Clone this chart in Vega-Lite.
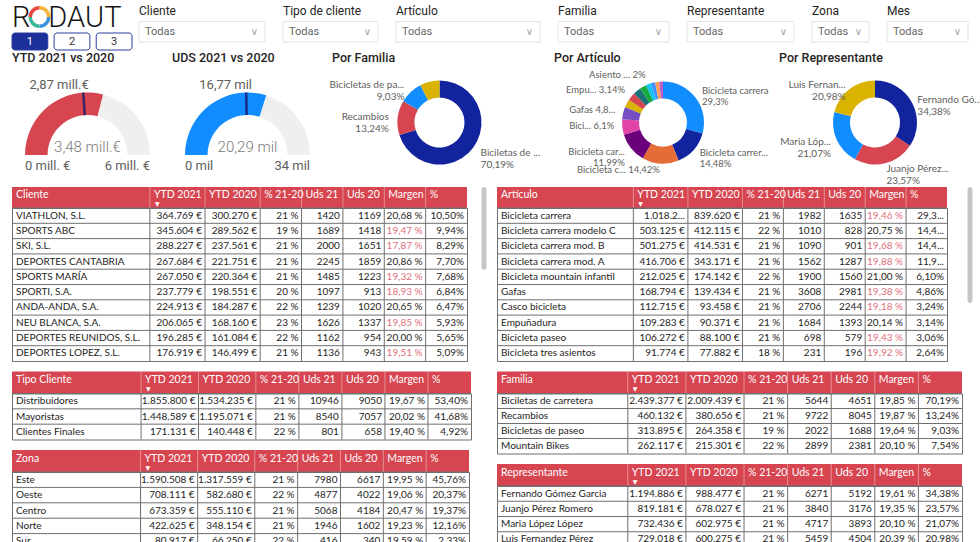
{
"$schema": "https://vega.github.io/schema/vega-lite/v6.json",
"background": "#ffffff",
"padding": {"left": 11, "top": 1, "right": 0, "bottom": 0},
"config": {
  "view": {"stroke": null},
  "locale": {"number": {"decimal": ",", "thousands": ".", "grouping": [3], "currency": ["", " €"], "percent": " %"}},
  "text": {"font": "Lato", "fontSize": 10, "color": "#252423"},
  "title": {"font": "Roboto", "fontSize": 12.5, "fontWeight": 500, "color": "#252423", "anchor": "start", "baseline": "bottom", "offset": 1, "frame": "group"}
},
"datasets": {
  "cols": [{"k":"s_y1","t":"YTD 2021"},{"k":"s_y2","t":"YTD 2020"},{"k":"s_v","t":"% 21-20"},{"k":"s_u1","t":"Uds 21"},{"k":"s_u2","t":"Uds 20"},{"k":"s_m","t":"Margen"},{"k":"s_p","t":"%"}],
  "cliente": [
    {"cliente":"VIATHLON, S.L.","ytd21":364769,"ytd20":300270,"var":0.21,"uds21":1420,"uds20":1169,"margen":0.2068,"pct":10.50},
    {"cliente":"SPORTS ABC","ytd21":345604,"ytd20":289562,"var":0.19,"uds21":1689,"uds20":1418,"margen":0.1947,"pct":9.94},
    {"cliente":"SKI, S.L.","ytd21":288227,"ytd20":237561,"var":0.21,"uds21":2000,"uds20":1651,"margen":0.1787,"pct":8.29},
    {"cliente":"DEPORTES CANTABRIA","ytd21":267684,"ytd20":221751,"var":0.21,"uds21":2245,"uds20":1859,"margen":0.2086,"pct":7.70},
    {"cliente":"SPORTS MARÍA","ytd21":267050,"ytd20":220364,"var":0.21,"uds21":1485,"uds20":1223,"margen":0.1932,"pct":7.68},
    {"cliente":"SPORTI, S.A.","ytd21":237779,"ytd20":198551,"var":0.20,"uds21":1097,"uds20":913,"margen":0.1893,"pct":6.84},
    {"cliente":"ANDA-ANDA, S.A.","ytd21":224913,"ytd20":184287,"var":0.22,"uds21":1239,"uds20":1020,"margen":0.2065,"pct":6.47},
    {"cliente":"NEU BLANCA, S.A.","ytd21":206065,"ytd20":168160,"var":0.23,"uds21":1626,"uds20":1337,"margen":0.1985,"pct":5.93},
    {"cliente":"DEPORTES REUNIDOS, S.L.","ytd21":196285,"ytd20":161084,"var":0.22,"uds21":1162,"uds20":954,"margen":0.2000,"pct":5.65},
    {"cliente":"DEPORTES LOPEZ, S.L.","ytd21":176919,"ytd20":146499,"var":0.21,"uds21":1136,"uds20":943,"margen":0.1951,"pct":5.09}
  ],
  "articulo": [
    {"articulo":"Bicicleta carrera","ytd21":1018271,"ytd20":839620,"var":0.21,"uds21":1982,"uds20":1635,"margen":0.1946,"pct":29.30},
    {"articulo":"Bicicleta carrera modelo C","ytd21":503125,"ytd20":412115,"var":0.22,"uds21":1010,"uds20":828,"margen":0.2075,"pct":14.48},
    {"articulo":"Bicicleta carrera mod. B","ytd21":501275,"ytd20":414531,"var":0.21,"uds21":1090,"uds20":901,"margen":0.1968,"pct":14.42},
    {"articulo":"Bicicleta carrera mod. A","ytd21":416706,"ytd20":343171,"var":0.21,"uds21":1562,"uds20":1287,"margen":0.1988,"pct":11.99},
    {"articulo":"Bicicleta mountain infantil","ytd21":212025,"ytd20":174142,"var":0.22,"uds21":1900,"uds20":1560,"margen":0.2100,"pct":6.10},
    {"articulo":"Gafas","ytd21":168794,"ytd20":139434,"var":0.21,"uds21":3608,"uds20":2981,"margen":0.1938,"pct":4.86},
    {"articulo":"Casco bicicleta","ytd21":112715,"ytd20":93458,"var":0.21,"uds21":2706,"uds20":2244,"margen":0.1918,"pct":3.24},
    {"articulo":"Empuñadura","ytd21":109283,"ytd20":90371,"var":0.21,"uds21":1684,"uds20":1393,"margen":0.2014,"pct":3.14},
    {"articulo":"Bicicleta paseo","ytd21":106272,"ytd20":88100,"var":0.21,"uds21":698,"uds20":579,"margen":0.1943,"pct":3.06},
    {"articulo":"Bicicleta tres asientos","ytd21":91774,"ytd20":77882,"var":0.18,"uds21":231,"uds20":196,"margen":0.1992,"pct":2.64}
  ],
  "art_donut": [
    {"articulo":"Bicicleta carrera","pct":29.30,"etiqueta":"Bicicleta carrera\n29,3%"},
    {"articulo":"Bicicleta carrera modelo C","pct":14.48,"etiqueta":"Bicicleta carrer...\n14,48%"},
    {"articulo":"Bicicleta carrera mod. B","pct":14.42,"etiqueta":"Bicicleta c... 14,42%"},
    {"articulo":"Bicicleta carrera mod. A","pct":11.99,"etiqueta":"Bicicleta car...\n11,99%"},
    {"articulo":"Bicicleta mountain infantil","pct":6.10,"etiqueta":"Bici... 6,1%"},
    {"articulo":"Gafas","pct":4.86,"etiqueta":"Gafas 4,8..."},
    {"articulo":"Casco bicicleta","pct":3.24,"etiqueta":""},
    {"articulo":"Empuñadura","pct":3.14,"etiqueta":"Empu... 3,14%"},
    {"articulo":"Bicicleta paseo","pct":3.06,"etiqueta":""},
    {"articulo":"Bicicleta tres asientos","pct":2.64,"etiqueta":""},
    {"articulo":"Asiento bicicleta","pct":2.00,"etiqueta":"Asiento ... 2%"},
    {"articulo":"Bicicleta paseo mod. B","pct":1.67,"etiqueta":""},
    {"articulo":"Bicicleta paseo mod. C","pct":1.66,"etiqueta":""},
    {"articulo":"Mountain bike adulto","pct":1.44,"etiqueta":""}
  ],
  "tipo": [
    {"tipo":"Distribuidores","ytd21":1855800,"ytd20":1534235,"var":0.21,"uds21":10946,"uds20":9050,"margen":0.1967,"pct":53.40},
    {"tipo":"Mayoristas","ytd21":1448589,"ytd20":1195071,"var":0.21,"uds21":8540,"uds20":7057,"margen":0.2002,"pct":41.68},
    {"tipo":"Clientes Finales","ytd21":171131,"ytd20":140448,"var":0.22,"uds21":801,"uds20":658,"margen":0.1940,"pct":4.92}
  ],
  "zona": [
    {"zona":"Este","ytd21":1590508,"ytd20":1317559,"var":0.21,"uds21":7980,"uds20":6617,"margen":0.1995,"pct":45.76},
    {"zona":"Oeste","ytd21":708111,"ytd20":582680,"var":0.22,"uds21":4877,"uds20":4022,"margen":0.1906,"pct":20.37},
    {"zona":"Centro","ytd21":673359,"ytd20":555110,"var":0.21,"uds21":5068,"uds20":4184,"margen":0.2047,"pct":19.37},
    {"zona":"Norte","ytd21":422625,"ytd20":348154,"var":0.21,"uds21":1946,"uds20":1602,"margen":0.1923,"pct":12.16},
    {"zona":"Sur","ytd21":80917,"ytd20":66250,"var":0.22,"uds21":416,"uds20":340,"margen":0.1959,"pct":2.33}
  ],
  "familia": [
    {"familia":"Biciletas de carretera","ytd21":2439377,"ytd20":2009439,"var":0.21,"uds21":5644,"uds20":4651,"margen":0.1985,"pct":70.19,"etiqueta":"Biciletas de ...\n70,19%"},
    {"familia":"Recambios","ytd21":460132,"ytd20":380656,"var":0.21,"uds21":9722,"uds20":8045,"margen":0.1987,"pct":13.24,"etiqueta":"Recambios\n13,24%"},
    {"familia":"Bicicletas de paseo","ytd21":313895,"ytd20":264358,"var":0.19,"uds21":2022,"uds20":1688,"margen":0.1964,"pct":9.03,"etiqueta":"Bicicletas de pa...\n9,03%"},
    {"familia":"Mountain Bikes","ytd21":262117,"ytd20":215301,"var":0.22,"uds21":2899,"uds20":2381,"margen":0.2010,"pct":7.54,"etiqueta":""}
  ],
  "representante": [
    {"representante":"Fernando Gómez Garcia","ytd21":1194886,"ytd20":988477,"var":0.21,"uds21":6271,"uds20":5192,"margen":0.1961,"pct":34.38,"etiqueta":"Fernando Gó...\n34,38%"},
    {"representante":"Juanjo Pérez Romero","ytd21":819181,"ytd20":678027,"var":0.21,"uds21":3840,"uds20":3176,"margen":0.1935,"pct":23.57,"etiqueta":"Juanjo Pérez...\n23,57%"},
    {"representante":"Maria López López","ytd21":732436,"ytd20":602975,"var":0.21,"uds21":4717,"uds20":3893,"margen":0.2010,"pct":21.07,"etiqueta":"Maria Lóp...\n21,07%"},
    {"representante":"Luis Fernandez Pérez","ytd21":729018,"ytd20":600275,"var":0.21,"uds21":5459,"uds20":4504,"margen":0.2039,"pct":20.98,"etiqueta":"Luis Fernan...\n20,98%"}
  ]
},
"spacing": -13,
"resolve": {"scale": {"color": "independent", "theta": "independent"}},
"vconcat": [
 {"spacing": 0, "resolve": {"scale": {"color": "independent", "theta": "independent"}}, "vconcat": [
  {"spacing": 5, "resolve": {"scale": {"color": "independent"}}, "hconcat": [
   {"spacing": 0, "bounds": "flush", "vconcat": [
    {"width": 110, "height": 32,
     "data": {"values": [{"letra":"R"},{"letra":"O"},{"letra":"D"},{"letra":"A"},{"letra":"U"},{"letra":"T"}]},
     "layer": [
      {"transform": [{"filter": "datum.letra != 'O'"}],
       "mark": {"type": "text", "font": "Roboto", "fontSize": 29, "fontWeight": 300, "color": "#151515", "baseline": "middle", "dy": 1},
       "encoding": {"x": {"field": "letra", "type": "nominal", "sort": null, "scale": {"type": "band", "domain": ["R","O","D","A","U","T"], "paddingInner": 0, "paddingOuter": 0}, "axis": null}, "text": {"field": "letra"}}},
      {"data": {"values": [{"seg":"a","v":1},{"seg":"b","v":1},{"seg":"c","v":1},{"seg":"d","v":1}]},
       "mark": {"type": "arc", "outerRadius": 11, "innerRadius": 7.5},
       "encoding": {"x": {"datum": "O", "type": "nominal", "scale": {"type": "band", "domain": ["R","O","D","A","U","T"], "paddingInner": 0, "paddingOuter": 0}, "axis": null},
        "theta": {"field": "v", "type": "quantitative", "stack": true},
        "color": {"field": "seg", "type": "nominal", "legend": null, "scale": {"domain": ["a","b","c","d"], "range": ["#F4B63A","#3F95DD","#3DB59A","#E8493C"]}}}}
     ]},
    {"width": 120, "height": 17,
     "data": {"values": [{"boton":"1","activo":true},{"boton":"2","activo":false},{"boton":"3","activo":false}]},
     "encoding": {"x": {"field": "boton", "type": "nominal", "scale": {"type": "band", "paddingInner": 0.15, "paddingOuter": 0}, "axis": null}},
     "layer": [
      {"mark": {"type": "bar", "cornerRadius": 3, "stroke": "#2B3E9E", "strokeWidth": 1},
       "encoding": {"color": {"condition": {"test": "datum.activo", "value": "#1D2F9B"}, "value": "#ffffff"}}},
      {"mark": {"type": "text", "font": "Roboto", "fontSize": 11},
       "encoding": {"text": {"field": "boton"}, "color": {"condition": {"test": "datum.activo", "value": "#ffffff"}, "value": "#333333"}}}
     ]}
   ]},
   {"spacing": 18, "bounds": "flush", "hconcat": [
    {"width": 126, "height": 41, "data": {"values": [{"campo":"Cliente","valor":"Todas"}]},
     "layer": [
      {"mark": {"type": "bar", "fill": "#ffffff", "stroke": "#E3E3E3"}, "encoding": {"y": {"datum": "caja", "type": "nominal", "scale": {"type": "band", "domain": ["titulo","caja"], "paddingInner": 0, "paddingOuter": 0}, "axis": null}}},
      {"mark": {"type": "text", "align": "left", "font": "Roboto", "fontSize": 12, "color": "#252423"}, "encoding": {"y": {"datum": "titulo", "type": "nominal", "scale": {"type": "band", "domain": ["titulo","caja"], "paddingInner": 0, "paddingOuter": 0}, "axis": null}, "x": {"datum": "izq", "type": "nominal", "bandPosition": 0, "scale": {"type": "band", "domain": ["izq","der"], "paddingInner": 0, "paddingOuter": 0}, "axis": null}, "text": {"field": "campo"}}},
      {"mark": {"type": "text", "align": "left", "dx": 6, "font": "Roboto", "fontSize": 11, "color": "#666666"}, "encoding": {"y": {"datum": "caja", "type": "nominal", "scale": {"type": "band", "domain": ["titulo","caja"], "paddingInner": 0, "paddingOuter": 0}, "axis": null}, "x": {"datum": "izq", "type": "nominal", "bandPosition": 0, "scale": {"type": "band", "domain": ["izq","der"], "paddingInner": 0, "paddingOuter": 0}, "axis": null}, "text": {"field": "valor"}}},
      {"mark": {"type": "text", "align": "right", "dx": -7, "font": "DejaVu Sans", "fontSize": 10, "color": "#A0A0A0", "text": "∨"}, "encoding": {"y": {"datum": "caja", "type": "nominal", "scale": {"type": "band", "domain": ["titulo","caja"], "paddingInner": 0, "paddingOuter": 0}, "axis": null}, "x": {"datum": "der", "type": "nominal", "bandPosition": 1, "scale": {"type": "band", "domain": ["izq","der"], "paddingInner": 0, "paddingOuter": 0}, "axis": null}}}
     ]},
    {"width": 95, "height": 41, "data": {"values": [{"campo":"Tipo de cliente","valor":"Todas"}]},
     "layer": [
      {"mark": {"type": "bar", "fill": "#ffffff", "stroke": "#E3E3E3"}, "encoding": {"y": {"datum": "caja", "type": "nominal", "scale": {"type": "band", "domain": ["titulo","caja"], "paddingInner": 0, "paddingOuter": 0}, "axis": null}}},
      {"mark": {"type": "text", "align": "left", "font": "Roboto", "fontSize": 12, "color": "#252423"}, "encoding": {"y": {"datum": "titulo", "type": "nominal", "scale": {"type": "band", "domain": ["titulo","caja"], "paddingInner": 0, "paddingOuter": 0}, "axis": null}, "x": {"datum": "izq", "type": "nominal", "bandPosition": 0, "scale": {"type": "band", "domain": ["izq","der"], "paddingInner": 0, "paddingOuter": 0}, "axis": null}, "text": {"field": "campo"}}},
      {"mark": {"type": "text", "align": "left", "dx": 6, "font": "Roboto", "fontSize": 11, "color": "#666666"}, "encoding": {"y": {"datum": "caja", "type": "nominal", "scale": {"type": "band", "domain": ["titulo","caja"], "paddingInner": 0, "paddingOuter": 0}, "axis": null}, "x": {"datum": "izq", "type": "nominal", "bandPosition": 0, "scale": {"type": "band", "domain": ["izq","der"], "paddingInner": 0, "paddingOuter": 0}, "axis": null}, "text": {"field": "valor"}}},
      {"mark": {"type": "text", "align": "right", "dx": -7, "font": "DejaVu Sans", "fontSize": 10, "color": "#A0A0A0", "text": "∨"}, "encoding": {"y": {"datum": "caja", "type": "nominal", "scale": {"type": "band", "domain": ["titulo","caja"], "paddingInner": 0, "paddingOuter": 0}, "axis": null}, "x": {"datum": "der", "type": "nominal", "bandPosition": 1, "scale": {"type": "band", "domain": ["izq","der"], "paddingInner": 0, "paddingOuter": 0}, "axis": null}}}
     ]},
    {"width": 144, "height": 41, "data": {"values": [{"campo":"Artículo","valor":"Todas"}]},
     "layer": [
      {"mark": {"type": "bar", "fill": "#ffffff", "stroke": "#E3E3E3"}, "encoding": {"y": {"datum": "caja", "type": "nominal", "scale": {"type": "band", "domain": ["titulo","caja"], "paddingInner": 0, "paddingOuter": 0}, "axis": null}}},
      {"mark": {"type": "text", "align": "left", "font": "Roboto", "fontSize": 12, "color": "#252423"}, "encoding": {"y": {"datum": "titulo", "type": "nominal", "scale": {"type": "band", "domain": ["titulo","caja"], "paddingInner": 0, "paddingOuter": 0}, "axis": null}, "x": {"datum": "izq", "type": "nominal", "bandPosition": 0, "scale": {"type": "band", "domain": ["izq","der"], "paddingInner": 0, "paddingOuter": 0}, "axis": null}, "text": {"field": "campo"}}},
      {"mark": {"type": "text", "align": "left", "dx": 6, "font": "Roboto", "fontSize": 11, "color": "#666666"}, "encoding": {"y": {"datum": "caja", "type": "nominal", "scale": {"type": "band", "domain": ["titulo","caja"], "paddingInner": 0, "paddingOuter": 0}, "axis": null}, "x": {"datum": "izq", "type": "nominal", "bandPosition": 0, "scale": {"type": "band", "domain": ["izq","der"], "paddingInner": 0, "paddingOuter": 0}, "axis": null}, "text": {"field": "valor"}}},
      {"mark": {"type": "text", "align": "right", "dx": -7, "font": "DejaVu Sans", "fontSize": 10, "color": "#A0A0A0", "text": "∨"}, "encoding": {"y": {"datum": "caja", "type": "nominal", "scale": {"type": "band", "domain": ["titulo","caja"], "paddingInner": 0, "paddingOuter": 0}, "axis": null}, "x": {"datum": "der", "type": "nominal", "bandPosition": 1, "scale": {"type": "band", "domain": ["izq","der"], "paddingInner": 0, "paddingOuter": 0}, "axis": null}}}
     ]},
    {"width": 111, "height": 41, "data": {"values": [{"campo":"Familia","valor":"Todas"}]},
     "layer": [
      {"mark": {"type": "bar", "fill": "#ffffff", "stroke": "#E3E3E3"}, "encoding": {"y": {"datum": "caja", "type": "nominal", "scale": {"type": "band", "domain": ["titulo","caja"], "paddingInner": 0, "paddingOuter": 0}, "axis": null}}},
      {"mark": {"type": "text", "align": "left", "font": "Roboto", "fontSize": 12, "color": "#252423"}, "encoding": {"y": {"datum": "titulo", "type": "nominal", "scale": {"type": "band", "domain": ["titulo","caja"], "paddingInner": 0, "paddingOuter": 0}, "axis": null}, "x": {"datum": "izq", "type": "nominal", "bandPosition": 0, "scale": {"type": "band", "domain": ["izq","der"], "paddingInner": 0, "paddingOuter": 0}, "axis": null}, "text": {"field": "campo"}}},
      {"mark": {"type": "text", "align": "left", "dx": 6, "font": "Roboto", "fontSize": 11, "color": "#666666"}, "encoding": {"y": {"datum": "caja", "type": "nominal", "scale": {"type": "band", "domain": ["titulo","caja"], "paddingInner": 0, "paddingOuter": 0}, "axis": null}, "x": {"datum": "izq", "type": "nominal", "bandPosition": 0, "scale": {"type": "band", "domain": ["izq","der"], "paddingInner": 0, "paddingOuter": 0}, "axis": null}, "text": {"field": "valor"}}},
      {"mark": {"type": "text", "align": "right", "dx": -7, "font": "DejaVu Sans", "fontSize": 10, "color": "#A0A0A0", "text": "∨"}, "encoding": {"y": {"datum": "caja", "type": "nominal", "scale": {"type": "band", "domain": ["titulo","caja"], "paddingInner": 0, "paddingOuter": 0}, "axis": null}, "x": {"datum": "der", "type": "nominal", "bandPosition": 1, "scale": {"type": "band", "domain": ["izq","der"], "paddingInner": 0, "paddingOuter": 0}, "axis": null}}}
     ]},
    {"width": 107, "height": 41, "data": {"values": [{"campo":"Representante","valor":"Todas"}]},
     "layer": [
      {"mark": {"type": "bar", "fill": "#ffffff", "stroke": "#E3E3E3"}, "encoding": {"y": {"datum": "caja", "type": "nominal", "scale": {"type": "band", "domain": ["titulo","caja"], "paddingInner": 0, "paddingOuter": 0}, "axis": null}}},
      {"mark": {"type": "text", "align": "left", "font": "Roboto", "fontSize": 12, "color": "#252423"}, "encoding": {"y": {"datum": "titulo", "type": "nominal", "scale": {"type": "band", "domain": ["titulo","caja"], "paddingInner": 0, "paddingOuter": 0}, "axis": null}, "x": {"datum": "izq", "type": "nominal", "bandPosition": 0, "scale": {"type": "band", "domain": ["izq","der"], "paddingInner": 0, "paddingOuter": 0}, "axis": null}, "text": {"field": "campo"}}},
      {"mark": {"type": "text", "align": "left", "dx": 6, "font": "Roboto", "fontSize": 11, "color": "#666666"}, "encoding": {"y": {"datum": "caja", "type": "nominal", "scale": {"type": "band", "domain": ["titulo","caja"], "paddingInner": 0, "paddingOuter": 0}, "axis": null}, "x": {"datum": "izq", "type": "nominal", "bandPosition": 0, "scale": {"type": "band", "domain": ["izq","der"], "paddingInner": 0, "paddingOuter": 0}, "axis": null}, "text": {"field": "valor"}}},
      {"mark": {"type": "text", "align": "right", "dx": -7, "font": "DejaVu Sans", "fontSize": 10, "color": "#A0A0A0", "text": "∨"}, "encoding": {"y": {"datum": "caja", "type": "nominal", "scale": {"type": "band", "domain": ["titulo","caja"], "paddingInner": 0, "paddingOuter": 0}, "axis": null}, "x": {"datum": "der", "type": "nominal", "bandPosition": 1, "scale": {"type": "band", "domain": ["izq","der"], "paddingInner": 0, "paddingOuter": 0}, "axis": null}}}
     ]},
    {"width": 57, "height": 41, "data": {"values": [{"campo":"Zona","valor":"Todas"}]},
     "layer": [
      {"mark": {"type": "bar", "fill": "#ffffff", "stroke": "#E3E3E3"}, "encoding": {"y": {"datum": "caja", "type": "nominal", "scale": {"type": "band", "domain": ["titulo","caja"], "paddingInner": 0, "paddingOuter": 0}, "axis": null}}},
      {"mark": {"type": "text", "align": "left", "font": "Roboto", "fontSize": 12, "color": "#252423"}, "encoding": {"y": {"datum": "titulo", "type": "nominal", "scale": {"type": "band", "domain": ["titulo","caja"], "paddingInner": 0, "paddingOuter": 0}, "axis": null}, "x": {"datum": "izq", "type": "nominal", "bandPosition": 0, "scale": {"type": "band", "domain": ["izq","der"], "paddingInner": 0, "paddingOuter": 0}, "axis": null}, "text": {"field": "campo"}}},
      {"mark": {"type": "text", "align": "left", "dx": 6, "font": "Roboto", "fontSize": 11, "color": "#666666"}, "encoding": {"y": {"datum": "caja", "type": "nominal", "scale": {"type": "band", "domain": ["titulo","caja"], "paddingInner": 0, "paddingOuter": 0}, "axis": null}, "x": {"datum": "izq", "type": "nominal", "bandPosition": 0, "scale": {"type": "band", "domain": ["izq","der"], "paddingInner": 0, "paddingOuter": 0}, "axis": null}, "text": {"field": "valor"}}},
      {"mark": {"type": "text", "align": "right", "dx": -7, "font": "DejaVu Sans", "fontSize": 10, "color": "#A0A0A0", "text": "∨"}, "encoding": {"y": {"datum": "caja", "type": "nominal", "scale": {"type": "band", "domain": ["titulo","caja"], "paddingInner": 0, "paddingOuter": 0}, "axis": null}, "x": {"datum": "der", "type": "nominal", "bandPosition": 1, "scale": {"type": "band", "domain": ["izq","der"], "paddingInner": 0, "paddingOuter": 0}, "axis": null}}}
     ]},
    {"width": 81, "height": 41, "data": {"values": [{"campo":"Mes","valor":"Todas"}]},
     "layer": [
      {"mark": {"type": "bar", "fill": "#ffffff", "stroke": "#E3E3E3"}, "encoding": {"y": {"datum": "caja", "type": "nominal", "scale": {"type": "band", "domain": ["titulo","caja"], "paddingInner": 0, "paddingOuter": 0}, "axis": null}}},
      {"mark": {"type": "text", "align": "left", "font": "Roboto", "fontSize": 12, "color": "#252423"}, "encoding": {"y": {"datum": "titulo", "type": "nominal", "scale": {"type": "band", "domain": ["titulo","caja"], "paddingInner": 0, "paddingOuter": 0}, "axis": null}, "x": {"datum": "izq", "type": "nominal", "bandPosition": 0, "scale": {"type": "band", "domain": ["izq","der"], "paddingInner": 0, "paddingOuter": 0}, "axis": null}, "text": {"field": "campo"}}},
      {"mark": {"type": "text", "align": "left", "dx": 6, "font": "Roboto", "fontSize": 11, "color": "#666666"}, "encoding": {"y": {"datum": "caja", "type": "nominal", "scale": {"type": "band", "domain": ["titulo","caja"], "paddingInner": 0, "paddingOuter": 0}, "axis": null}, "x": {"datum": "izq", "type": "nominal", "bandPosition": 0, "scale": {"type": "band", "domain": ["izq","der"], "paddingInner": 0, "paddingOuter": 0}, "axis": null}, "text": {"field": "valor"}}},
      {"mark": {"type": "text", "align": "right", "dx": -7, "font": "DejaVu Sans", "fontSize": 10, "color": "#A0A0A0", "text": "∨"}, "encoding": {"y": {"datum": "caja", "type": "nominal", "scale": {"type": "band", "domain": ["titulo","caja"], "paddingInner": 0, "paddingOuter": 0}, "axis": null}, "x": {"datum": "der", "type": "nominal", "bandPosition": 1, "scale": {"type": "band", "domain": ["izq","der"], "paddingInner": 0, "paddingOuter": 0}, "axis": null}}}
     ]}
   ]}
  ]},
  {"spacing": 0, "bounds": "flush", "resolve": {"scale": {"color": "independent", "theta": "independent"}}, "hconcat": [
   {"width": 151, "height": 90,
    "title": {"text": "YTD 2021 vs 2020"},
    "data": {"values": [{"kpi": "YTD", "min": 0, "max": 6, "valor": 3.48, "objetivo": 2.87}]},
    "encoding": {"y": {"value": "height"}},
    "layer": [
     {"mark": {"type": "arc", "outerRadius": 62.5, "innerRadius": 40, "color": "#EFEFEF"}, "encoding": {"theta": {"field": "min", "type": "quantitative", "stack": null, "scale": {"domain": [0, 6], "range": [-1.5708, 1.5708]}}, "theta2": {"field": "max"}}},
     {"mark": {"type": "arc", "outerRadius": 62.5, "innerRadius": 40, "color": "#D64550"}, "encoding": {"theta": {"field": "min", "type": "quantitative", "stack": null}, "theta2": {"field": "valor"}}},
     {"mark": {"type": "arc", "outerRadius": 62.5, "innerRadius": 40, "fill": "#3A2363", "stroke": "#3A2363", "strokeWidth": 2.5}, "encoding": {"theta": {"field": "objetivo", "type": "quantitative", "stack": null}, "theta2": {"field": "objetivo"}}},
     {"mark": {"type": "text", "radius": 70, "align": "right", "baseline": "middle", "dx": 6, "font": "Roboto", "fontSize": 13, "color": "#605E5C", "text": {"expr": "format(datum.objetivo, '.2f') + ' mill.€'"}}, "encoding": {"theta": {"field": "objetivo", "type": "quantitative"}}},
     {"mark": {"type": "text", "radius": 62.5, "align": "left", "baseline": "top", "dy": 5, "font": "Roboto", "fontSize": 13, "color": "#605E5C", "text": {"expr": "format(datum.min, 'd') + ' mill. €'"}}, "encoding": {"theta": {"field": "min", "type": "quantitative"}}},
     {"mark": {"type": "text", "radius": 62.5, "align": "right", "baseline": "top", "dy": 5, "font": "Roboto", "fontSize": 13, "color": "#605E5C", "text": {"expr": "format(datum.max, 'd') + ' mill. €'"}}, "encoding": {"theta": {"field": "max", "type": "quantitative"}}},
     {"mark": {"type": "text", "align": "center", "baseline": "alphabetic", "dy": -3, "font": "Roboto", "fontSize": 15, "fontWeight": 300, "color": "#7A7A7A", "text": {"expr": "format(datum.valor, '.2f') + ' mill.€'"}}, "encoding": {}}
    ]},
   {"width": 169, "height": 90,
    "title": {"text": "UDS 2021 vs 2020", "dx": 9},
    "data": {"values": [{"kpi": "UDS", "min": 0, "max": 34, "valor": 20.29, "objetivo": 16.77}]},
    "encoding": {"y": {"value": "height"}},
    "layer": [
     {"mark": {"type": "arc", "outerRadius": 62.5, "innerRadius": 40, "color": "#EFEFEF"}, "encoding": {"theta": {"field": "min", "type": "quantitative", "stack": null, "scale": {"domain": [0, 34], "range": [-1.5708, 1.5708]}}, "theta2": {"field": "max"}}},
     {"mark": {"type": "arc", "outerRadius": 62.5, "innerRadius": 40, "color": "#118DFF"}, "encoding": {"theta": {"field": "min", "type": "quantitative", "stack": null}, "theta2": {"field": "valor"}}},
     {"mark": {"type": "arc", "outerRadius": 62.5, "innerRadius": 40, "fill": "#1A2A8A", "stroke": "#1A2A8A", "strokeWidth": 2.5}, "encoding": {"theta": {"field": "objetivo", "type": "quantitative", "stack": null}, "theta2": {"field": "objetivo"}}},
     {"mark": {"type": "text", "radius": 70, "align": "right", "baseline": "middle", "dx": 6, "font": "Roboto", "fontSize": 13, "color": "#605E5C", "text": {"expr": "format(datum.objetivo, '.2f') + ' mil'"}}, "encoding": {"theta": {"field": "objetivo", "type": "quantitative"}}},
     {"mark": {"type": "text", "radius": 62.5, "align": "left", "baseline": "top", "dy": 5, "font": "Roboto", "fontSize": 13, "color": "#605E5C", "text": {"expr": "format(datum.min, 'd') + ' mil'"}}, "encoding": {"theta": {"field": "min", "type": "quantitative"}}},
     {"mark": {"type": "text", "radius": 62.5, "align": "right", "baseline": "top", "dy": 5, "font": "Roboto", "fontSize": 13, "color": "#605E5C", "text": {"expr": "format(datum.max, 'd') + ' mil'"}}, "encoding": {"theta": {"field": "max", "type": "quantitative"}}},
     {"mark": {"type": "text", "align": "center", "baseline": "alphabetic", "dy": -3, "font": "Roboto", "fontSize": 15, "fontWeight": 300, "color": "#7A7A7A", "text": {"expr": "format(datum.valor, '.2f') + ' mil'"}}, "encoding": {}}
    ]},
   {"width": 215, "height": 115,
    "title": {"text": "Por Familia"},
    "data": {"name": "familia"},
    "encoding": {"theta": {"field": "pct", "type": "quantitative", "stack": true}, "order": {"field": "pct", "sort": "descending"}},
    "layer": [
     {"mark": {"type": "arc", "outerRadius": 42, "innerRadius": 25}, "encoding": {"color": {"field": "familia", "type": "nominal", "legend": null, "scale": {"domain": ["Biciletas de carretera","Recambios","Bicicletas de paseo","Mountain Bikes"], "range": ["#12239E","#D64550","#118DFF","#D9B300"]}}}},
     {"mark": {"type": "text", "radius": 51, "baseline": "middle", "lineBreak": "\n", "color": "#605E5C", "fontSize": 10, "align": {"expr": "datum.pct_start + datum.pct_end < 100 ? 'left' : 'right'"}}, "encoding": {"text": {"field": "etiqueta"}}}
    ]},
   {"width": 232, "height": 115,
    "title": {"text": "Por Artículo", "dx": 7},
    "data": {"name": "art_donut"},
    "encoding": {"theta": {"field": "pct", "type": "quantitative", "stack": true}, "order": {"field": "pct", "sort": "descending"}},
    "layer": [
     {"mark": {"type": "arc", "outerRadius": 41, "innerRadius": 24}, "encoding": {"color": {"field": "articulo", "type": "nominal", "legend": null, "scale": {"domain": ["Bicicleta carrera","Bicicleta carrera modelo C","Bicicleta carrera mod. B","Bicicleta carrera mod. A","Bicicleta mountain infantil","Gafas","Casco bicicleta","Empuñadura","Bicicleta paseo","Bicicleta tres asientos","Asiento bicicleta","Bicicleta paseo mod. B","Bicicleta paseo mod. C","Mountain bike adulto"], "range": ["#118DFF","#12239E","#E66C37","#6B007B","#E044A7","#744EC2","#D9B300","#D64550","#197278","#1AAB40","#15C6F4","#4092FF","#FFA058","#BE5DC9"]}}}},
     {"mark": {"type": "text", "radius": 49, "dy": -1.5, "baseline": "middle", "lineBreak": "\n", "lineHeight": 11, "color": "#605E5C", "fontSize": 9.5, "align": {"expr": "datum.pct_start + datum.pct_end < 100 ? 'left' : 'right'"}}, "encoding": {"text": {"field": "etiqueta"}}}
    ]},
   {"width": 192, "height": 115,
    "title": {"text": "Por Representante"},
    "data": {"name": "representante"},
    "encoding": {"theta": {"field": "pct", "type": "quantitative", "stack": true}, "order": {"field": "pct", "sort": "descending"}},
    "layer": [
     {"mark": {"type": "arc", "outerRadius": 42, "innerRadius": 25}, "encoding": {"color": {"field": "representante", "type": "nominal", "legend": null, "scale": {"domain": ["Fernando Gómez Garcia","Juanjo Pérez Romero","Maria López López","Luis Fernandez Pérez"], "range": ["#12239E","#D64550","#118DFF","#D9B300"]}}}},
     {"mark": {"type": "text", "radius": 48, "baseline": "middle", "lineBreak": "\n", "color": "#605E5C", "fontSize": 10, "align": {"expr": "datum.pct_start + datum.pct_end < 100 ? 'left' : 'right'"}}, "encoding": {"text": {"field": "etiqueta"}}}
    ]}
  ]}
 ]},
 {"spacing": 0, "hconcat": [
  {"spacing": 8.5, "vconcat": [
   {"spacing": 0, "bounds": "flush", "vconcat": [
    {"width": 455, "height": 21, "view": {"fill": "#D64550", "stroke": null}, "data": {"name": "cols"},
     "layer": [
      {"mark": {"type": "rule", "color": "#ffffff", "strokeOpacity": 0.4}, "encoding": {"x": {"field": "k", "type": "nominal", "bandPosition": 0, "axis": null, "scale": {"type":"band","domain":["s_n","_1","_2","_3","_4","_5","_6","_7","_8","_9","s_y1","_a","_b","y1","s_y2","_c","_d","y2","s_v","_e","v","s_u1","_f","u1","s_u2","_g","u2","s_m","_h","m","s_p","_i","p"],"paddingInner":0,"paddingOuter":0}}}},
      {"mark": {"type": "text", "align": "left", "dx": 4, "dy": -2.5, "color": "#ffffff", "fontSize": 10.5}, "encoding": {"x": {"field": "k", "type": "nominal", "bandPosition": 0, "axis": null, "scale": {"type":"band","domain":["s_n","_1","_2","_3","_4","_5","_6","_7","_8","_9","s_y1","_a","_b","y1","s_y2","_c","_d","y2","s_v","_e","v","s_u1","_f","u1","s_u2","_g","u2","s_m","_h","m","s_p","_i","p"],"paddingInner":0,"paddingOuter":0}}, "text": {"field": "t"}}},
      {"data": {"values": [{"k": "s_n", "t": "Cliente"}]}, "mark": {"type": "text", "align": "left", "dx": 4, "dy": -2.5, "color": "#ffffff", "fontSize": 10.5}, "encoding": {"x": {"field": "k", "type": "nominal", "bandPosition": 0, "axis": null, "scale": {"type":"band","domain":["s_n","_1","_2","_3","_4","_5","_6","_7","_8","_9","s_y1","_a","_b","y1","s_y2","_c","_d","y2","s_v","_e","v","s_u1","_f","u1","s_u2","_g","u2","s_m","_h","m","s_p","_i","p"],"paddingInner":0,"paddingOuter":0}}, "text": {"field": "t"}}},
      {"data": {"values": [{"k": "s_y1", "t": "▼"}]}, "mark": {"type": "text", "align": "left", "dx": 5, "dy": 6.5, "color": "#ffffff", "fontSize": 6, "font": "DejaVu Sans"}, "encoding": {"x": {"field": "k", "type": "nominal", "bandPosition": 0, "axis": null, "scale": {"type":"band","domain":["s_n","_1","_2","_3","_4","_5","_6","_7","_8","_9","s_y1","_a","_b","y1","s_y2","_c","_d","y2","s_v","_e","v","s_u1","_f","u1","s_u2","_g","u2","s_m","_h","m","s_p","_i","p"],"paddingInner":0,"paddingOuter":0}}, "text": {"field": "t"}}}
     ]},
    {"width": 455, "height": 153, "view": {"stroke": "#6F6F6F"}, "data": {"name": "cliente"},
     "layer": [
      {"data": {"name": "cols"}, "mark": {"type": "rule", "color": "#6F6F6F"}, "encoding": {"x": {"field": "k", "type": "nominal", "bandPosition": 0, "axis": null, "scale": {"type":"band","domain":["s_n","_1","_2","_3","_4","_5","_6","_7","_8","_9","s_y1","_a","_b","y1","s_y2","_c","_d","y2","s_v","_e","v","s_u1","_f","u1","s_u2","_g","u2","s_m","_h","m","s_p","_i","p"],"paddingInner":0,"paddingOuter":0}}}},
      {"encoding": {"y": {"field": "cliente", "type": "nominal", "sort": null, "axis": null, "scale": {"type": "band", "paddingInner": 0, "paddingOuter": 0}}},
       "layer": [
        {"mark": {"type": "rule", "color": "#6F6F6F"}, "encoding": {"y": {"field": "cliente", "type": "nominal", "sort": null, "axis": null, "bandPosition": 0, "scale": {"type": "band", "paddingInner": 0, "paddingOuter": 0}}}},
        {"mark": {"type": "text", "align": "left", "dx": 4}, "encoding": {"x": {"datum": "s_n", "type": "nominal", "bandPosition": 0, "axis": null, "scale": {"type":"band","domain":["s_n","_1","_2","_3","_4","_5","_6","_7","_8","_9","s_y1","_a","_b","y1","s_y2","_c","_d","y2","s_v","_e","v","s_u1","_f","u1","s_u2","_g","u2","s_m","_h","m","s_p","_i","p"],"paddingInner":0,"paddingOuter":0}}, "text": {"field": "cliente"}}},
        {"mark": {"type": "text", "align": "right", "dx": -3}, "encoding": {"x": {"datum": "y1", "type": "nominal", "bandPosition": 1, "axis": null, "scale": {"type":"band","domain":["s_n","_1","_2","_3","_4","_5","_6","_7","_8","_9","s_y1","_a","_b","y1","s_y2","_c","_d","y2","s_v","_e","v","s_u1","_f","u1","s_u2","_g","u2","s_m","_h","m","s_p","_i","p"],"paddingInner":0,"paddingOuter":0}}, "text": {"field": "ytd21", "format": "$,.0f"}}},
        {"mark": {"type": "text", "align": "right", "dx": -3}, "encoding": {"x": {"datum": "y2", "type": "nominal", "bandPosition": 1, "axis": null, "scale": {"type":"band","domain":["s_n","_1","_2","_3","_4","_5","_6","_7","_8","_9","s_y1","_a","_b","y1","s_y2","_c","_d","y2","s_v","_e","v","s_u1","_f","u1","s_u2","_g","u2","s_m","_h","m","s_p","_i","p"],"paddingInner":0,"paddingOuter":0}}, "text": {"field": "ytd20", "format": "$,.0f"}}},
        {"mark": {"type": "text", "align": "right", "dx": -3}, "encoding": {"x": {"datum": "v", "type": "nominal", "bandPosition": 1, "axis": null, "scale": {"type":"band","domain":["s_n","_1","_2","_3","_4","_5","_6","_7","_8","_9","s_y1","_a","_b","y1","s_y2","_c","_d","y2","s_v","_e","v","s_u1","_f","u1","s_u2","_g","u2","s_m","_h","m","s_p","_i","p"],"paddingInner":0,"paddingOuter":0}}, "text": {"field": "var", "format": ".0%"}}},
        {"mark": {"type": "text", "align": "right", "dx": -3}, "encoding": {"x": {"datum": "u1", "type": "nominal", "bandPosition": 1, "axis": null, "scale": {"type":"band","domain":["s_n","_1","_2","_3","_4","_5","_6","_7","_8","_9","s_y1","_a","_b","y1","s_y2","_c","_d","y2","s_v","_e","v","s_u1","_f","u1","s_u2","_g","u2","s_m","_h","m","s_p","_i","p"],"paddingInner":0,"paddingOuter":0}}, "text": {"field": "uds21", "format": "d"}}},
        {"mark": {"type": "text", "align": "right", "dx": -3}, "encoding": {"x": {"datum": "u2", "type": "nominal", "bandPosition": 1, "axis": null, "scale": {"type":"band","domain":["s_n","_1","_2","_3","_4","_5","_6","_7","_8","_9","s_y1","_a","_b","y1","s_y2","_c","_d","y2","s_v","_e","v","s_u1","_f","u1","s_u2","_g","u2","s_m","_h","m","s_p","_i","p"],"paddingInner":0,"paddingOuter":0}}, "text": {"field": "uds20", "format": "d"}}},
        {"mark": {"type": "text", "align": "right", "dx": -3}, "encoding": {"x": {"datum": "m", "type": "nominal", "bandPosition": 1, "axis": null, "scale": {"type":"band","domain":["s_n","_1","_2","_3","_4","_5","_6","_7","_8","_9","s_y1","_a","_b","y1","s_y2","_c","_d","y2","s_v","_e","v","s_u1","_f","u1","s_u2","_g","u2","s_m","_h","m","s_p","_i","p"],"paddingInner":0,"paddingOuter":0}}, "text": {"field": "margen", "format": ".2%"}, "color": {"condition": {"test": "datum.margen < 0.2", "value": "#E0707D"}, "value": "#252423"}}},
        {"mark": {"type": "text", "align": "right", "dx": -3, "text": {"expr": "format(datum.pct, '.2f') + '%'"}}, "encoding": {"x": {"datum": "p", "type": "nominal", "bandPosition": 1, "axis": null, "scale": {"type":"band","domain":["s_n","_1","_2","_3","_4","_5","_6","_7","_8","_9","s_y1","_a","_b","y1","s_y2","_c","_d","y2","s_v","_e","v","s_u1","_f","u1","s_u2","_g","u2","s_m","_h","m","s_p","_i","p"],"paddingInner":0,"paddingOuter":0}}}}
       ]}
     ]}
   ]},
   {"spacing": 0, "bounds": "flush", "vconcat": [
    {"width": 459, "height": 22, "view": {"fill": "#D64550", "stroke": null}, "data": {"name": "cols"},
     "layer": [
      {"mark": {"type": "rule", "color": "#ffffff", "strokeOpacity": 0.4}, "encoding": {"x": {"field": "k", "type": "nominal", "bandPosition": 0, "axis": null, "scale": {"type":"band","domain":["s_n","_1","_2","_3","_4","_5","_6","_7","_8","s_y1","_a","_b","y1","s_y2","_c","_d","y2","s_v","_e","v","s_u1","_f","u1","s_u2","_g","u2","s_m","_h","m","s_p","_i","p"],"paddingInner":0,"paddingOuter":0}}}},
      {"mark": {"type": "text", "align": "left", "dx": 4, "dy": -2.5, "color": "#ffffff", "fontSize": 10.5}, "encoding": {"x": {"field": "k", "type": "nominal", "bandPosition": 0, "axis": null, "scale": {"type":"band","domain":["s_n","_1","_2","_3","_4","_5","_6","_7","_8","s_y1","_a","_b","y1","s_y2","_c","_d","y2","s_v","_e","v","s_u1","_f","u1","s_u2","_g","u2","s_m","_h","m","s_p","_i","p"],"paddingInner":0,"paddingOuter":0}}, "text": {"field": "t"}}},
      {"data": {"values": [{"k": "s_n", "t": "Tipo Cliente"}]}, "mark": {"type": "text", "align": "left", "dx": 4, "dy": -2.5, "color": "#ffffff", "fontSize": 10.5}, "encoding": {"x": {"field": "k", "type": "nominal", "bandPosition": 0, "axis": null, "scale": {"type":"band","domain":["s_n","_1","_2","_3","_4","_5","_6","_7","_8","s_y1","_a","_b","y1","s_y2","_c","_d","y2","s_v","_e","v","s_u1","_f","u1","s_u2","_g","u2","s_m","_h","m","s_p","_i","p"],"paddingInner":0,"paddingOuter":0}}, "text": {"field": "t"}}},
      {"data": {"values": [{"k": "s_y1", "t": "▼"}]}, "mark": {"type": "text", "align": "left", "dx": 5, "dy": 6.5, "color": "#ffffff", "fontSize": 6, "font": "DejaVu Sans"}, "encoding": {"x": {"field": "k", "type": "nominal", "bandPosition": 0, "axis": null, "scale": {"type":"band","domain":["s_n","_1","_2","_3","_4","_5","_6","_7","_8","s_y1","_a","_b","y1","s_y2","_c","_d","y2","s_v","_e","v","s_u1","_f","u1","s_u2","_g","u2","s_m","_h","m","s_p","_i","p"],"paddingInner":0,"paddingOuter":0}}, "text": {"field": "t"}}}
     ]},
    {"width": 459, "height": 46, "view": {"stroke": "#6F6F6F"}, "data": {"name": "tipo"},
     "layer": [
      {"data": {"name": "cols"}, "mark": {"type": "rule", "color": "#6F6F6F"}, "encoding": {"x": {"field": "k", "type": "nominal", "bandPosition": 0, "axis": null, "scale": {"type":"band","domain":["s_n","_1","_2","_3","_4","_5","_6","_7","_8","s_y1","_a","_b","y1","s_y2","_c","_d","y2","s_v","_e","v","s_u1","_f","u1","s_u2","_g","u2","s_m","_h","m","s_p","_i","p"],"paddingInner":0,"paddingOuter":0}}}},
      {"encoding": {"y": {"field": "tipo", "type": "nominal", "sort": null, "axis": null, "scale": {"type": "band", "paddingInner": 0, "paddingOuter": 0}}},
       "layer": [
        {"mark": {"type": "rule", "color": "#6F6F6F"}, "encoding": {"y": {"field": "tipo", "type": "nominal", "sort": null, "axis": null, "bandPosition": 0, "scale": {"type": "band", "paddingInner": 0, "paddingOuter": 0}}}},
        {"mark": {"type": "text", "align": "left", "dx": 4}, "encoding": {"x": {"datum": "s_n", "type": "nominal", "bandPosition": 0, "axis": null, "scale": {"type":"band","domain":["s_n","_1","_2","_3","_4","_5","_6","_7","_8","s_y1","_a","_b","y1","s_y2","_c","_d","y2","s_v","_e","v","s_u1","_f","u1","s_u2","_g","u2","s_m","_h","m","s_p","_i","p"],"paddingInner":0,"paddingOuter":0}}, "text": {"field": "tipo"}}},
        {"mark": {"type": "text", "align": "right", "dx": -3}, "encoding": {"x": {"datum": "y1", "type": "nominal", "bandPosition": 1, "axis": null, "scale": {"type":"band","domain":["s_n","_1","_2","_3","_4","_5","_6","_7","_8","s_y1","_a","_b","y1","s_y2","_c","_d","y2","s_v","_e","v","s_u1","_f","u1","s_u2","_g","u2","s_m","_h","m","s_p","_i","p"],"paddingInner":0,"paddingOuter":0}}, "text": {"field": "ytd21", "format": "$,.0f"}}},
        {"mark": {"type": "text", "align": "right", "dx": -3}, "encoding": {"x": {"datum": "y2", "type": "nominal", "bandPosition": 1, "axis": null, "scale": {"type":"band","domain":["s_n","_1","_2","_3","_4","_5","_6","_7","_8","s_y1","_a","_b","y1","s_y2","_c","_d","y2","s_v","_e","v","s_u1","_f","u1","s_u2","_g","u2","s_m","_h","m","s_p","_i","p"],"paddingInner":0,"paddingOuter":0}}, "text": {"field": "ytd20", "format": "$,.0f"}}},
        {"mark": {"type": "text", "align": "right", "dx": -3}, "encoding": {"x": {"datum": "v", "type": "nominal", "bandPosition": 1, "axis": null, "scale": {"type":"band","domain":["s_n","_1","_2","_3","_4","_5","_6","_7","_8","s_y1","_a","_b","y1","s_y2","_c","_d","y2","s_v","_e","v","s_u1","_f","u1","s_u2","_g","u2","s_m","_h","m","s_p","_i","p"],"paddingInner":0,"paddingOuter":0}}, "text": {"field": "var", "format": ".0%"}}},
        {"mark": {"type": "text", "align": "right", "dx": -3}, "encoding": {"x": {"datum": "u1", "type": "nominal", "bandPosition": 1, "axis": null, "scale": {"type":"band","domain":["s_n","_1","_2","_3","_4","_5","_6","_7","_8","s_y1","_a","_b","y1","s_y2","_c","_d","y2","s_v","_e","v","s_u1","_f","u1","s_u2","_g","u2","s_m","_h","m","s_p","_i","p"],"paddingInner":0,"paddingOuter":0}}, "text": {"field": "uds21", "format": "d"}}},
        {"mark": {"type": "text", "align": "right", "dx": -3}, "encoding": {"x": {"datum": "u2", "type": "nominal", "bandPosition": 1, "axis": null, "scale": {"type":"band","domain":["s_n","_1","_2","_3","_4","_5","_6","_7","_8","s_y1","_a","_b","y1","s_y2","_c","_d","y2","s_v","_e","v","s_u1","_f","u1","s_u2","_g","u2","s_m","_h","m","s_p","_i","p"],"paddingInner":0,"paddingOuter":0}}, "text": {"field": "uds20", "format": "d"}}},
        {"mark": {"type": "text", "align": "right", "dx": -3}, "encoding": {"x": {"datum": "m", "type": "nominal", "bandPosition": 1, "axis": null, "scale": {"type":"band","domain":["s_n","_1","_2","_3","_4","_5","_6","_7","_8","s_y1","_a","_b","y1","s_y2","_c","_d","y2","s_v","_e","v","s_u1","_f","u1","s_u2","_g","u2","s_m","_h","m","s_p","_i","p"],"paddingInner":0,"paddingOuter":0}}, "text": {"field": "margen", "format": ".2%"}}},
        {"mark": {"type": "text", "align": "right", "dx": -3, "text": {"expr": "format(datum.pct, '.2f') + '%'"}}, "encoding": {"x": {"datum": "p", "type": "nominal", "bandPosition": 1, "axis": null, "scale": {"type":"band","domain":["s_n","_1","_2","_3","_4","_5","_6","_7","_8","s_y1","_a","_b","y1","s_y2","_c","_d","y2","s_v","_e","v","s_u1","_f","u1","s_u2","_g","u2","s_m","_h","m","s_p","_i","p"],"paddingInner":0,"paddingOuter":0}}}}
       ]}
     ]}
   ]},
   {"spacing": 0, "bounds": "flush", "vconcat": [
    {"width": 457, "height": 22, "view": {"fill": "#D64550", "stroke": null}, "data": {"name": "cols"},
     "layer": [
      {"mark": {"type": "rule", "color": "#ffffff", "strokeOpacity": 0.4}, "encoding": {"x": {"field": "k", "type": "nominal", "bandPosition": 0, "axis": null, "scale": {"type":"band","domain":["s_n","_1","_2","_3","_4","_5","_6","_7","_8","s_y1","_a","_b","y1","s_y2","_c","_d","y2","s_v","_e","v","s_u1","_f","u1","s_u2","_g","u2","s_m","_h","m","s_p","_i","p"],"paddingInner":0,"paddingOuter":0}}}},
      {"mark": {"type": "text", "align": "left", "dx": 4, "dy": -2.5, "color": "#ffffff", "fontSize": 10.5}, "encoding": {"x": {"field": "k", "type": "nominal", "bandPosition": 0, "axis": null, "scale": {"type":"band","domain":["s_n","_1","_2","_3","_4","_5","_6","_7","_8","s_y1","_a","_b","y1","s_y2","_c","_d","y2","s_v","_e","v","s_u1","_f","u1","s_u2","_g","u2","s_m","_h","m","s_p","_i","p"],"paddingInner":0,"paddingOuter":0}}, "text": {"field": "t"}}},
      {"data": {"values": [{"k": "s_n", "t": "Zona"}]}, "mark": {"type": "text", "align": "left", "dx": 4, "dy": -2.5, "color": "#ffffff", "fontSize": 10.5}, "encoding": {"x": {"field": "k", "type": "nominal", "bandPosition": 0, "axis": null, "scale": {"type":"band","domain":["s_n","_1","_2","_3","_4","_5","_6","_7","_8","s_y1","_a","_b","y1","s_y2","_c","_d","y2","s_v","_e","v","s_u1","_f","u1","s_u2","_g","u2","s_m","_h","m","s_p","_i","p"],"paddingInner":0,"paddingOuter":0}}, "text": {"field": "t"}}},
      {"data": {"values": [{"k": "s_y1", "t": "▼"}]}, "mark": {"type": "text", "align": "left", "dx": 5, "dy": 6.5, "color": "#ffffff", "fontSize": 6, "font": "DejaVu Sans"}, "encoding": {"x": {"field": "k", "type": "nominal", "bandPosition": 0, "axis": null, "scale": {"type":"band","domain":["s_n","_1","_2","_3","_4","_5","_6","_7","_8","s_y1","_a","_b","y1","s_y2","_c","_d","y2","s_v","_e","v","s_u1","_f","u1","s_u2","_g","u2","s_m","_h","m","s_p","_i","p"],"paddingInner":0,"paddingOuter":0}}, "text": {"field": "t"}}}
     ]},
    {"width": 457, "height": 77, "view": {"stroke": "#6F6F6F"}, "data": {"name": "zona"},
     "layer": [
      {"data": {"name": "cols"}, "mark": {"type": "rule", "color": "#6F6F6F"}, "encoding": {"x": {"field": "k", "type": "nominal", "bandPosition": 0, "axis": null, "scale": {"type":"band","domain":["s_n","_1","_2","_3","_4","_5","_6","_7","_8","s_y1","_a","_b","y1","s_y2","_c","_d","y2","s_v","_e","v","s_u1","_f","u1","s_u2","_g","u2","s_m","_h","m","s_p","_i","p"],"paddingInner":0,"paddingOuter":0}}}},
      {"encoding": {"y": {"field": "zona", "type": "nominal", "sort": null, "axis": null, "scale": {"type": "band", "paddingInner": 0, "paddingOuter": 0}}},
       "layer": [
        {"mark": {"type": "rule", "color": "#6F6F6F"}, "encoding": {"y": {"field": "zona", "type": "nominal", "sort": null, "axis": null, "bandPosition": 0, "scale": {"type": "band", "paddingInner": 0, "paddingOuter": 0}}}},
        {"mark": {"type": "text", "align": "left", "dx": 4}, "encoding": {"x": {"datum": "s_n", "type": "nominal", "bandPosition": 0, "axis": null, "scale": {"type":"band","domain":["s_n","_1","_2","_3","_4","_5","_6","_7","_8","s_y1","_a","_b","y1","s_y2","_c","_d","y2","s_v","_e","v","s_u1","_f","u1","s_u2","_g","u2","s_m","_h","m","s_p","_i","p"],"paddingInner":0,"paddingOuter":0}}, "text": {"field": "zona"}}},
        {"mark": {"type": "text", "align": "right", "dx": -3}, "encoding": {"x": {"datum": "y1", "type": "nominal", "bandPosition": 1, "axis": null, "scale": {"type":"band","domain":["s_n","_1","_2","_3","_4","_5","_6","_7","_8","s_y1","_a","_b","y1","s_y2","_c","_d","y2","s_v","_e","v","s_u1","_f","u1","s_u2","_g","u2","s_m","_h","m","s_p","_i","p"],"paddingInner":0,"paddingOuter":0}}, "text": {"field": "ytd21", "format": "$,.0f"}}},
        {"mark": {"type": "text", "align": "right", "dx": -3}, "encoding": {"x": {"datum": "y2", "type": "nominal", "bandPosition": 1, "axis": null, "scale": {"type":"band","domain":["s_n","_1","_2","_3","_4","_5","_6","_7","_8","s_y1","_a","_b","y1","s_y2","_c","_d","y2","s_v","_e","v","s_u1","_f","u1","s_u2","_g","u2","s_m","_h","m","s_p","_i","p"],"paddingInner":0,"paddingOuter":0}}, "text": {"field": "ytd20", "format": "$,.0f"}}},
        {"mark": {"type": "text", "align": "right", "dx": -3}, "encoding": {"x": {"datum": "v", "type": "nominal", "bandPosition": 1, "axis": null, "scale": {"type":"band","domain":["s_n","_1","_2","_3","_4","_5","_6","_7","_8","s_y1","_a","_b","y1","s_y2","_c","_d","y2","s_v","_e","v","s_u1","_f","u1","s_u2","_g","u2","s_m","_h","m","s_p","_i","p"],"paddingInner":0,"paddingOuter":0}}, "text": {"field": "var", "format": ".0%"}}},
        {"mark": {"type": "text", "align": "right", "dx": -3}, "encoding": {"x": {"datum": "u1", "type": "nominal", "bandPosition": 1, "axis": null, "scale": {"type":"band","domain":["s_n","_1","_2","_3","_4","_5","_6","_7","_8","s_y1","_a","_b","y1","s_y2","_c","_d","y2","s_v","_e","v","s_u1","_f","u1","s_u2","_g","u2","s_m","_h","m","s_p","_i","p"],"paddingInner":0,"paddingOuter":0}}, "text": {"field": "uds21", "format": "d"}}},
        {"mark": {"type": "text", "align": "right", "dx": -3}, "encoding": {"x": {"datum": "u2", "type": "nominal", "bandPosition": 1, "axis": null, "scale": {"type":"band","domain":["s_n","_1","_2","_3","_4","_5","_6","_7","_8","s_y1","_a","_b","y1","s_y2","_c","_d","y2","s_v","_e","v","s_u1","_f","u1","s_u2","_g","u2","s_m","_h","m","s_p","_i","p"],"paddingInner":0,"paddingOuter":0}}, "text": {"field": "uds20", "format": "d"}}},
        {"mark": {"type": "text", "align": "right", "dx": -3}, "encoding": {"x": {"datum": "m", "type": "nominal", "bandPosition": 1, "axis": null, "scale": {"type":"band","domain":["s_n","_1","_2","_3","_4","_5","_6","_7","_8","s_y1","_a","_b","y1","s_y2","_c","_d","y2","s_v","_e","v","s_u1","_f","u1","s_u2","_g","u2","s_m","_h","m","s_p","_i","p"],"paddingInner":0,"paddingOuter":0}}, "text": {"field": "margen", "format": ".2%"}}},
        {"mark": {"type": "text", "align": "right", "dx": -3, "text": {"expr": "format(datum.pct, '.2f') + '%'"}}, "encoding": {"x": {"datum": "p", "type": "nominal", "bandPosition": 1, "axis": null, "scale": {"type":"band","domain":["s_n","_1","_2","_3","_4","_5","_6","_7","_8","s_y1","_a","_b","y1","s_y2","_c","_d","y2","s_v","_e","v","s_u1","_f","u1","s_u2","_g","u2","s_m","_h","m","s_p","_i","p"],"paddingInner":0,"paddingOuter":0}}}}
       ]}
     ]}
   ]}
  ]},
  {"width": 24, "height": 174,
   "data": {"values": [{"tabla": "Cliente", "inicio": 0, "filas_visibles": 10}]},
   "mark": {"type": "bar", "color": "#C6C6C6", "cornerRadius": 2.5, "width": 5},
   "encoding": {"x": {"field": "tabla", "type": "nominal", "axis": null, "scale": {"type": "band", "paddingInner": 0, "paddingOuter": 0}},
    "y": {"field": "inicio", "type": "quantitative", "axis": null, "scale": {"domain": [0, 21], "reverse": true}},
    "y2": {"field": "filas_visibles"}}},
  {"spacing": 8.5, "vconcat": [
   {"spacing": 0, "bounds": "flush", "vconcat": [
    {"width": 450, "height": 21, "view": {"fill": "#D64550", "stroke": null}, "data": {"name": "cols"},
     "layer": [
      {"mark": {"type": "rule", "color": "#ffffff", "strokeOpacity": 0.4}, "encoding": {"x": {"field": "k", "type": "nominal", "bandPosition": 0, "axis": null, "scale": {"type":"band","domain":["s_n","_1","_2","_3","_4","_5","_6","_7","_8","_9","s_y1","_a","_b","y1","s_y2","_c","_d","y2","s_v","_e","v","s_u1","_f","u1","s_u2","_g","u2","s_m","_h","m","s_p","_i","p"],"paddingInner":0,"paddingOuter":0}}}},
      {"mark": {"type": "text", "align": "left", "dx": 4, "dy": -2.5, "color": "#ffffff", "fontSize": 10.5}, "encoding": {"x": {"field": "k", "type": "nominal", "bandPosition": 0, "axis": null, "scale": {"type":"band","domain":["s_n","_1","_2","_3","_4","_5","_6","_7","_8","_9","s_y1","_a","_b","y1","s_y2","_c","_d","y2","s_v","_e","v","s_u1","_f","u1","s_u2","_g","u2","s_m","_h","m","s_p","_i","p"],"paddingInner":0,"paddingOuter":0}}, "text": {"field": "t"}}},
      {"data": {"values": [{"k": "s_n", "t": "Artículo"}]}, "mark": {"type": "text", "align": "left", "dx": 4, "dy": -2.5, "color": "#ffffff", "fontSize": 10.5}, "encoding": {"x": {"field": "k", "type": "nominal", "bandPosition": 0, "axis": null, "scale": {"type":"band","domain":["s_n","_1","_2","_3","_4","_5","_6","_7","_8","_9","s_y1","_a","_b","y1","s_y2","_c","_d","y2","s_v","_e","v","s_u1","_f","u1","s_u2","_g","u2","s_m","_h","m","s_p","_i","p"],"paddingInner":0,"paddingOuter":0}}, "text": {"field": "t"}}},
      {"data": {"values": [{"k": "s_y1", "t": "▼"}]}, "mark": {"type": "text", "align": "left", "dx": 5, "dy": 6.5, "color": "#ffffff", "fontSize": 6, "font": "DejaVu Sans"}, "encoding": {"x": {"field": "k", "type": "nominal", "bandPosition": 0, "axis": null, "scale": {"type":"band","domain":["s_n","_1","_2","_3","_4","_5","_6","_7","_8","_9","s_y1","_a","_b","y1","s_y2","_c","_d","y2","s_v","_e","v","s_u1","_f","u1","s_u2","_g","u2","s_m","_h","m","s_p","_i","p"],"paddingInner":0,"paddingOuter":0}}, "text": {"field": "t"}}}
     ]},
    {"width": 450, "height": 153, "view": {"stroke": "#6F6F6F"}, "data": {"name": "articulo"},
     "layer": [
      {"data": {"name": "cols"}, "mark": {"type": "rule", "color": "#6F6F6F"}, "encoding": {"x": {"field": "k", "type": "nominal", "bandPosition": 0, "axis": null, "scale": {"type":"band","domain":["s_n","_1","_2","_3","_4","_5","_6","_7","_8","_9","s_y1","_a","_b","y1","s_y2","_c","_d","y2","s_v","_e","v","s_u1","_f","u1","s_u2","_g","u2","s_m","_h","m","s_p","_i","p"],"paddingInner":0,"paddingOuter":0}}}},
      {"encoding": {"y": {"field": "articulo", "type": "nominal", "sort": null, "axis": null, "scale": {"type": "band", "paddingInner": 0, "paddingOuter": 0}}},
       "layer": [
        {"mark": {"type": "rule", "color": "#6F6F6F"}, "encoding": {"y": {"field": "articulo", "type": "nominal", "sort": null, "axis": null, "bandPosition": 0, "scale": {"type": "band", "paddingInner": 0, "paddingOuter": 0}}}},
        {"mark": {"type": "text", "align": "left", "dx": 4}, "encoding": {"x": {"datum": "s_n", "type": "nominal", "bandPosition": 0, "axis": null, "scale": {"type":"band","domain":["s_n","_1","_2","_3","_4","_5","_6","_7","_8","_9","s_y1","_a","_b","y1","s_y2","_c","_d","y2","s_v","_e","v","s_u1","_f","u1","s_u2","_g","u2","s_m","_h","m","s_p","_i","p"],"paddingInner":0,"paddingOuter":0}}, "text": {"field": "articulo"}}},
        {"mark": {"type": "text", "align": "right", "dx": -3, "limit": 46, "ellipsis": "..."}, "encoding": {"x": {"datum": "y1", "type": "nominal", "bandPosition": 1, "axis": null, "scale": {"type":"band","domain":["s_n","_1","_2","_3","_4","_5","_6","_7","_8","_9","s_y1","_a","_b","y1","s_y2","_c","_d","y2","s_v","_e","v","s_u1","_f","u1","s_u2","_g","u2","s_m","_h","m","s_p","_i","p"],"paddingInner":0,"paddingOuter":0}}, "text": {"field": "ytd21", "format": "$,.0f"}}},
        {"mark": {"type": "text", "align": "right", "dx": -3}, "encoding": {"x": {"datum": "y2", "type": "nominal", "bandPosition": 1, "axis": null, "scale": {"type":"band","domain":["s_n","_1","_2","_3","_4","_5","_6","_7","_8","_9","s_y1","_a","_b","y1","s_y2","_c","_d","y2","s_v","_e","v","s_u1","_f","u1","s_u2","_g","u2","s_m","_h","m","s_p","_i","p"],"paddingInner":0,"paddingOuter":0}}, "text": {"field": "ytd20", "format": "$,.0f"}}},
        {"mark": {"type": "text", "align": "right", "dx": -3}, "encoding": {"x": {"datum": "v", "type": "nominal", "bandPosition": 1, "axis": null, "scale": {"type":"band","domain":["s_n","_1","_2","_3","_4","_5","_6","_7","_8","_9","s_y1","_a","_b","y1","s_y2","_c","_d","y2","s_v","_e","v","s_u1","_f","u1","s_u2","_g","u2","s_m","_h","m","s_p","_i","p"],"paddingInner":0,"paddingOuter":0}}, "text": {"field": "var", "format": ".0%"}}},
        {"mark": {"type": "text", "align": "right", "dx": -3}, "encoding": {"x": {"datum": "u1", "type": "nominal", "bandPosition": 1, "axis": null, "scale": {"type":"band","domain":["s_n","_1","_2","_3","_4","_5","_6","_7","_8","_9","s_y1","_a","_b","y1","s_y2","_c","_d","y2","s_v","_e","v","s_u1","_f","u1","s_u2","_g","u2","s_m","_h","m","s_p","_i","p"],"paddingInner":0,"paddingOuter":0}}, "text": {"field": "uds21", "format": "d"}}},
        {"mark": {"type": "text", "align": "right", "dx": -3}, "encoding": {"x": {"datum": "u2", "type": "nominal", "bandPosition": 1, "axis": null, "scale": {"type":"band","domain":["s_n","_1","_2","_3","_4","_5","_6","_7","_8","_9","s_y1","_a","_b","y1","s_y2","_c","_d","y2","s_v","_e","v","s_u1","_f","u1","s_u2","_g","u2","s_m","_h","m","s_p","_i","p"],"paddingInner":0,"paddingOuter":0}}, "text": {"field": "uds20", "format": "d"}}},
        {"mark": {"type": "text", "align": "right", "dx": -3}, "encoding": {"x": {"datum": "m", "type": "nominal", "bandPosition": 1, "axis": null, "scale": {"type":"band","domain":["s_n","_1","_2","_3","_4","_5","_6","_7","_8","_9","s_y1","_a","_b","y1","s_y2","_c","_d","y2","s_v","_e","v","s_u1","_f","u1","s_u2","_g","u2","s_m","_h","m","s_p","_i","p"],"paddingInner":0,"paddingOuter":0}}, "text": {"field": "margen", "format": ".2%"}, "color": {"condition": {"test": "datum.margen < 0.2", "value": "#E0707D"}, "value": "#252423"}}},
        {"mark": {"type": "text", "align": "right", "dx": -3, "limit": 29, "ellipsis": "...", "text": {"expr": "format(datum.pct, '.2f') + '%'"}}, "encoding": {"x": {"datum": "p", "type": "nominal", "bandPosition": 1, "axis": null, "scale": {"type":"band","domain":["s_n","_1","_2","_3","_4","_5","_6","_7","_8","_9","s_y1","_a","_b","y1","s_y2","_c","_d","y2","s_v","_e","v","s_u1","_f","u1","s_u2","_g","u2","s_m","_h","m","s_p","_i","p"],"paddingInner":0,"paddingOuter":0}}}}
       ]}
     ]}
   ]},
   {"spacing": 0, "bounds": "flush", "vconcat": [
    {"width": 465, "height": 22, "view": {"fill": "#D64550", "stroke": null}, "data": {"name": "cols"},
     "layer": [
      {"mark": {"type": "rule", "color": "#ffffff", "strokeOpacity": 0.4}, "encoding": {"x": {"field": "k", "type": "nominal", "bandPosition": 0, "axis": null, "scale": {"type":"band","domain":["s_n","_1","_2","_3","_4","_5","_6","_7","_8","s_y1","_a","_b","y1","s_y2","_c","_d","y2","s_v","_e","v","s_u1","_f","u1","s_u2","_g","u2","s_m","_h","m","s_p","_i","p"],"paddingInner":0,"paddingOuter":0}}}},
      {"mark": {"type": "text", "align": "left", "dx": 4, "dy": -2.5, "color": "#ffffff", "fontSize": 10.5}, "encoding": {"x": {"field": "k", "type": "nominal", "bandPosition": 0, "axis": null, "scale": {"type":"band","domain":["s_n","_1","_2","_3","_4","_5","_6","_7","_8","s_y1","_a","_b","y1","s_y2","_c","_d","y2","s_v","_e","v","s_u1","_f","u1","s_u2","_g","u2","s_m","_h","m","s_p","_i","p"],"paddingInner":0,"paddingOuter":0}}, "text": {"field": "t"}}},
      {"data": {"values": [{"k": "s_n", "t": "Familia"}]}, "mark": {"type": "text", "align": "left", "dx": 4, "dy": -2.5, "color": "#ffffff", "fontSize": 10.5}, "encoding": {"x": {"field": "k", "type": "nominal", "bandPosition": 0, "axis": null, "scale": {"type":"band","domain":["s_n","_1","_2","_3","_4","_5","_6","_7","_8","s_y1","_a","_b","y1","s_y2","_c","_d","y2","s_v","_e","v","s_u1","_f","u1","s_u2","_g","u2","s_m","_h","m","s_p","_i","p"],"paddingInner":0,"paddingOuter":0}}, "text": {"field": "t"}}},
      {"data": {"values": [{"k": "s_y1", "t": "▼"}]}, "mark": {"type": "text", "align": "left", "dx": 5, "dy": 6.5, "color": "#ffffff", "fontSize": 6, "font": "DejaVu Sans"}, "encoding": {"x": {"field": "k", "type": "nominal", "bandPosition": 0, "axis": null, "scale": {"type":"band","domain":["s_n","_1","_2","_3","_4","_5","_6","_7","_8","s_y1","_a","_b","y1","s_y2","_c","_d","y2","s_v","_e","v","s_u1","_f","u1","s_u2","_g","u2","s_m","_h","m","s_p","_i","p"],"paddingInner":0,"paddingOuter":0}}, "text": {"field": "t"}}}
     ]},
    {"width": 465, "height": 60, "view": {"stroke": "#6F6F6F"}, "data": {"name": "familia"},
     "layer": [
      {"data": {"name": "cols"}, "mark": {"type": "rule", "color": "#6F6F6F"}, "encoding": {"x": {"field": "k", "type": "nominal", "bandPosition": 0, "axis": null, "scale": {"type":"band","domain":["s_n","_1","_2","_3","_4","_5","_6","_7","_8","s_y1","_a","_b","y1","s_y2","_c","_d","y2","s_v","_e","v","s_u1","_f","u1","s_u2","_g","u2","s_m","_h","m","s_p","_i","p"],"paddingInner":0,"paddingOuter":0}}}},
      {"encoding": {"y": {"field": "familia", "type": "nominal", "sort": null, "axis": null, "scale": {"type": "band", "paddingInner": 0, "paddingOuter": 0}}},
       "layer": [
        {"mark": {"type": "rule", "color": "#6F6F6F"}, "encoding": {"y": {"field": "familia", "type": "nominal", "sort": null, "axis": null, "bandPosition": 0, "scale": {"type": "band", "paddingInner": 0, "paddingOuter": 0}}}},
        {"mark": {"type": "text", "align": "left", "dx": 4}, "encoding": {"x": {"datum": "s_n", "type": "nominal", "bandPosition": 0, "axis": null, "scale": {"type":"band","domain":["s_n","_1","_2","_3","_4","_5","_6","_7","_8","s_y1","_a","_b","y1","s_y2","_c","_d","y2","s_v","_e","v","s_u1","_f","u1","s_u2","_g","u2","s_m","_h","m","s_p","_i","p"],"paddingInner":0,"paddingOuter":0}}, "text": {"field": "familia"}}},
        {"mark": {"type": "text", "align": "right", "dx": -3}, "encoding": {"x": {"datum": "y1", "type": "nominal", "bandPosition": 1, "axis": null, "scale": {"type":"band","domain":["s_n","_1","_2","_3","_4","_5","_6","_7","_8","s_y1","_a","_b","y1","s_y2","_c","_d","y2","s_v","_e","v","s_u1","_f","u1","s_u2","_g","u2","s_m","_h","m","s_p","_i","p"],"paddingInner":0,"paddingOuter":0}}, "text": {"field": "ytd21", "format": "$,.0f"}}},
        {"mark": {"type": "text", "align": "right", "dx": -3}, "encoding": {"x": {"datum": "y2", "type": "nominal", "bandPosition": 1, "axis": null, "scale": {"type":"band","domain":["s_n","_1","_2","_3","_4","_5","_6","_7","_8","s_y1","_a","_b","y1","s_y2","_c","_d","y2","s_v","_e","v","s_u1","_f","u1","s_u2","_g","u2","s_m","_h","m","s_p","_i","p"],"paddingInner":0,"paddingOuter":0}}, "text": {"field": "ytd20", "format": "$,.0f"}}},
        {"mark": {"type": "text", "align": "right", "dx": -3}, "encoding": {"x": {"datum": "v", "type": "nominal", "bandPosition": 1, "axis": null, "scale": {"type":"band","domain":["s_n","_1","_2","_3","_4","_5","_6","_7","_8","s_y1","_a","_b","y1","s_y2","_c","_d","y2","s_v","_e","v","s_u1","_f","u1","s_u2","_g","u2","s_m","_h","m","s_p","_i","p"],"paddingInner":0,"paddingOuter":0}}, "text": {"field": "var", "format": ".0%"}}},
        {"mark": {"type": "text", "align": "right", "dx": -3}, "encoding": {"x": {"datum": "u1", "type": "nominal", "bandPosition": 1, "axis": null, "scale": {"type":"band","domain":["s_n","_1","_2","_3","_4","_5","_6","_7","_8","s_y1","_a","_b","y1","s_y2","_c","_d","y2","s_v","_e","v","s_u1","_f","u1","s_u2","_g","u2","s_m","_h","m","s_p","_i","p"],"paddingInner":0,"paddingOuter":0}}, "text": {"field": "uds21", "format": "d"}}},
        {"mark": {"type": "text", "align": "right", "dx": -3}, "encoding": {"x": {"datum": "u2", "type": "nominal", "bandPosition": 1, "axis": null, "scale": {"type":"band","domain":["s_n","_1","_2","_3","_4","_5","_6","_7","_8","s_y1","_a","_b","y1","s_y2","_c","_d","y2","s_v","_e","v","s_u1","_f","u1","s_u2","_g","u2","s_m","_h","m","s_p","_i","p"],"paddingInner":0,"paddingOuter":0}}, "text": {"field": "uds20", "format": "d"}}},
        {"mark": {"type": "text", "align": "right", "dx": -3}, "encoding": {"x": {"datum": "m", "type": "nominal", "bandPosition": 1, "axis": null, "scale": {"type":"band","domain":["s_n","_1","_2","_3","_4","_5","_6","_7","_8","s_y1","_a","_b","y1","s_y2","_c","_d","y2","s_v","_e","v","s_u1","_f","u1","s_u2","_g","u2","s_m","_h","m","s_p","_i","p"],"paddingInner":0,"paddingOuter":0}}, "text": {"field": "margen", "format": ".2%"}}},
        {"mark": {"type": "text", "align": "right", "dx": -3, "text": {"expr": "format(datum.pct, '.2f') + '%'"}}, "encoding": {"x": {"datum": "p", "type": "nominal", "bandPosition": 1, "axis": null, "scale": {"type":"band","domain":["s_n","_1","_2","_3","_4","_5","_6","_7","_8","s_y1","_a","_b","y1","s_y2","_c","_d","y2","s_v","_e","v","s_u1","_f","u1","s_u2","_g","u2","s_m","_h","m","s_p","_i","p"],"paddingInner":0,"paddingOuter":0}}}}
       ]}
     ]}
   ]},
   {"spacing": 0, "bounds": "flush", "vconcat": [
    {"width": 465, "height": 22, "view": {"fill": "#D64550", "stroke": null}, "data": {"name": "cols"},
     "layer": [
      {"mark": {"type": "rule", "color": "#ffffff", "strokeOpacity": 0.4}, "encoding": {"x": {"field": "k", "type": "nominal", "bandPosition": 0, "axis": null, "scale": {"type":"band","domain":["s_n","_1","_2","_3","_4","_5","_6","_7","_8","s_y1","_a","_b","y1","s_y2","_c","_d","y2","s_v","_e","v","s_u1","_f","u1","s_u2","_g","u2","s_m","_h","m","s_p","_i","p"],"paddingInner":0,"paddingOuter":0}}}},
      {"mark": {"type": "text", "align": "left", "dx": 4, "dy": -2.5, "color": "#ffffff", "fontSize": 10.5}, "encoding": {"x": {"field": "k", "type": "nominal", "bandPosition": 0, "axis": null, "scale": {"type":"band","domain":["s_n","_1","_2","_3","_4","_5","_6","_7","_8","s_y1","_a","_b","y1","s_y2","_c","_d","y2","s_v","_e","v","s_u1","_f","u1","s_u2","_g","u2","s_m","_h","m","s_p","_i","p"],"paddingInner":0,"paddingOuter":0}}, "text": {"field": "t"}}},
      {"data": {"values": [{"k": "s_n", "t": "Representante"}]}, "mark": {"type": "text", "align": "left", "dx": 4, "dy": -2.5, "color": "#ffffff", "fontSize": 10.5}, "encoding": {"x": {"field": "k", "type": "nominal", "bandPosition": 0, "axis": null, "scale": {"type":"band","domain":["s_n","_1","_2","_3","_4","_5","_6","_7","_8","s_y1","_a","_b","y1","s_y2","_c","_d","y2","s_v","_e","v","s_u1","_f","u1","s_u2","_g","u2","s_m","_h","m","s_p","_i","p"],"paddingInner":0,"paddingOuter":0}}, "text": {"field": "t"}}},
      {"data": {"values": [{"k": "s_y1", "t": "▼"}]}, "mark": {"type": "text", "align": "left", "dx": 5, "dy": 6.5, "color": "#ffffff", "fontSize": 6, "font": "DejaVu Sans"}, "encoding": {"x": {"field": "k", "type": "nominal", "bandPosition": 0, "axis": null, "scale": {"type":"band","domain":["s_n","_1","_2","_3","_4","_5","_6","_7","_8","s_y1","_a","_b","y1","s_y2","_c","_d","y2","s_v","_e","v","s_u1","_f","u1","s_u2","_g","u2","s_m","_h","m","s_p","_i","p"],"paddingInner":0,"paddingOuter":0}}, "text": {"field": "t"}}}
     ]},
    {"width": 465, "height": 61, "view": {"stroke": "#6F6F6F"}, "data": {"name": "representante"},
     "layer": [
      {"data": {"name": "cols"}, "mark": {"type": "rule", "color": "#6F6F6F"}, "encoding": {"x": {"field": "k", "type": "nominal", "bandPosition": 0, "axis": null, "scale": {"type":"band","domain":["s_n","_1","_2","_3","_4","_5","_6","_7","_8","s_y1","_a","_b","y1","s_y2","_c","_d","y2","s_v","_e","v","s_u1","_f","u1","s_u2","_g","u2","s_m","_h","m","s_p","_i","p"],"paddingInner":0,"paddingOuter":0}}}},
      {"encoding": {"y": {"field": "representante", "type": "nominal", "sort": null, "axis": null, "scale": {"type": "band", "paddingInner": 0, "paddingOuter": 0}}},
       "layer": [
        {"mark": {"type": "rule", "color": "#6F6F6F"}, "encoding": {"y": {"field": "representante", "type": "nominal", "sort": null, "axis": null, "bandPosition": 0, "scale": {"type": "band", "paddingInner": 0, "paddingOuter": 0}}}},
        {"mark": {"type": "text", "align": "left", "dx": 4}, "encoding": {"x": {"datum": "s_n", "type": "nominal", "bandPosition": 0, "axis": null, "scale": {"type":"band","domain":["s_n","_1","_2","_3","_4","_5","_6","_7","_8","s_y1","_a","_b","y1","s_y2","_c","_d","y2","s_v","_e","v","s_u1","_f","u1","s_u2","_g","u2","s_m","_h","m","s_p","_i","p"],"paddingInner":0,"paddingOuter":0}}, "text": {"field": "representante"}}},
        {"mark": {"type": "text", "align": "right", "dx": -3}, "encoding": {"x": {"datum": "y1", "type": "nominal", "bandPosition": 1, "axis": null, "scale": {"type":"band","domain":["s_n","_1","_2","_3","_4","_5","_6","_7","_8","s_y1","_a","_b","y1","s_y2","_c","_d","y2","s_v","_e","v","s_u1","_f","u1","s_u2","_g","u2","s_m","_h","m","s_p","_i","p"],"paddingInner":0,"paddingOuter":0}}, "text": {"field": "ytd21", "format": "$,.0f"}}},
        {"mark": {"type": "text", "align": "right", "dx": -3}, "encoding": {"x": {"datum": "y2", "type": "nominal", "bandPosition": 1, "axis": null, "scale": {"type":"band","domain":["s_n","_1","_2","_3","_4","_5","_6","_7","_8","s_y1","_a","_b","y1","s_y2","_c","_d","y2","s_v","_e","v","s_u1","_f","u1","s_u2","_g","u2","s_m","_h","m","s_p","_i","p"],"paddingInner":0,"paddingOuter":0}}, "text": {"field": "ytd20", "format": "$,.0f"}}},
        {"mark": {"type": "text", "align": "right", "dx": -3}, "encoding": {"x": {"datum": "v", "type": "nominal", "bandPosition": 1, "axis": null, "scale": {"type":"band","domain":["s_n","_1","_2","_3","_4","_5","_6","_7","_8","s_y1","_a","_b","y1","s_y2","_c","_d","y2","s_v","_e","v","s_u1","_f","u1","s_u2","_g","u2","s_m","_h","m","s_p","_i","p"],"paddingInner":0,"paddingOuter":0}}, "text": {"field": "var", "format": ".0%"}}},
        {"mark": {"type": "text", "align": "right", "dx": -3}, "encoding": {"x": {"datum": "u1", "type": "nominal", "bandPosition": 1, "axis": null, "scale": {"type":"band","domain":["s_n","_1","_2","_3","_4","_5","_6","_7","_8","s_y1","_a","_b","y1","s_y2","_c","_d","y2","s_v","_e","v","s_u1","_f","u1","s_u2","_g","u2","s_m","_h","m","s_p","_i","p"],"paddingInner":0,"paddingOuter":0}}, "text": {"field": "uds21", "format": "d"}}},
        {"mark": {"type": "text", "align": "right", "dx": -3}, "encoding": {"x": {"datum": "u2", "type": "nominal", "bandPosition": 1, "axis": null, "scale": {"type":"band","domain":["s_n","_1","_2","_3","_4","_5","_6","_7","_8","s_y1","_a","_b","y1","s_y2","_c","_d","y2","s_v","_e","v","s_u1","_f","u1","s_u2","_g","u2","s_m","_h","m","s_p","_i","p"],"paddingInner":0,"paddingOuter":0}}, "text": {"field": "uds20", "format": "d"}}},
        {"mark": {"type": "text", "align": "right", "dx": -3}, "encoding": {"x": {"datum": "m", "type": "nominal", "bandPosition": 1, "axis": null, "scale": {"type":"band","domain":["s_n","_1","_2","_3","_4","_5","_6","_7","_8","s_y1","_a","_b","y1","s_y2","_c","_d","y2","s_v","_e","v","s_u1","_f","u1","s_u2","_g","u2","s_m","_h","m","s_p","_i","p"],"paddingInner":0,"paddingOuter":0}}, "text": {"field": "margen", "format": ".2%"}}},
        {"mark": {"type": "text", "align": "right", "dx": -3, "text": {"expr": "format(datum.pct, '.2f') + '%'"}}, "encoding": {"x": {"datum": "p", "type": "nominal", "bandPosition": 1, "axis": null, "scale": {"type":"band","domain":["s_n","_1","_2","_3","_4","_5","_6","_7","_8","s_y1","_a","_b","y1","s_y2","_c","_d","y2","s_v","_e","v","s_u1","_f","u1","s_u2","_g","u2","s_m","_h","m","s_p","_i","p"],"paddingInner":0,"paddingOuter":0}}}}
       ]}
     ]}
   ]}
  ]},
  {"width": 14, "height": 174,
   "data": {"values": [{"tabla": "Artículo", "inicio": 0, "filas_visibles": 10}]},
   "mark": {"type": "bar", "color": "#C6C6C6", "cornerRadius": 2.5, "width": 5},
   "encoding": {"x": {"field": "tabla", "type": "nominal", "axis": null, "scale": {"type": "band", "paddingInner": 0, "paddingOuter": 0}},
    "y": {"field": "inicio", "type": "quantitative", "axis": null, "scale": {"domain": [0, 15], "reverse": true}},
    "y2": {"field": "filas_visibles"}}}
 ]}
]
}
